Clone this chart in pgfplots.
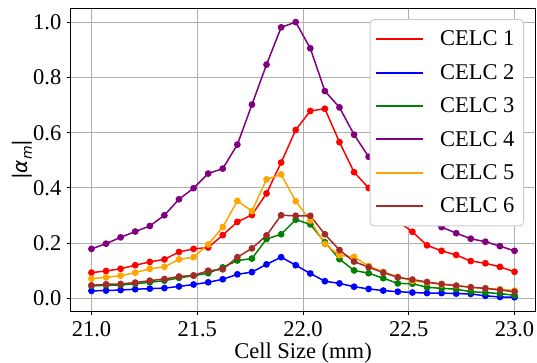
\documentclass[border=0pt]{standalone}
\usepackage{pgfplots}
\usepackage{pgfplotstable}
\pgfplotsset{compat=1.18}
\usepackage{fontspec}
\setmainfont{Liberation Serif}
\newfontfamily\timesf{Liberation Serif}
\newfontfamily\djv{DejaVu Sans}
\definecolor{mred}{HTML}{FF0000}
\definecolor{mblue}{HTML}{0000FF}
\definecolor{mgreen}{HTML}{008000}
\definecolor{mpurple}{HTML}{800080}
\definecolor{morange}{HTML}{FFA500}
\definecolor{mbrown}{HTML}{A52A2A}
\definecolor{gridgray}{HTML}{B0B0B0}
\definecolor{leggray}{HTML}{CCCCCC}

\pgfplotstableread{
x       c1     c2     c3     c4     c5     c6
21.0000 0.093  0.027  0.045  0.179  0.071  0.047
21.0690 0.099  0.028  0.047  0.198  0.076  0.051
21.1379 0.107  0.030  0.048  0.221  0.082  0.052
21.2069 0.120  0.033  0.053  0.242  0.093  0.057
21.2759 0.132  0.035  0.058  0.262  0.107  0.064
21.3448 0.141  0.037  0.064  0.301  0.114  0.070
21.4138 0.168  0.043  0.074  0.359  0.141  0.079
21.4828 0.179  0.050  0.082  0.399  0.149  0.083
21.5517 0.184  0.058  0.091  0.452  0.195  0.100
21.6207 0.229  0.069  0.112  0.470  0.258  0.105
21.6897 0.277  0.087  0.137  0.557  0.353  0.149
21.7586 0.302  0.095  0.144  0.702  0.316  0.181
21.8276 0.380  0.123  0.215  0.847  0.431  0.228
21.8966 0.492  0.149  0.232  0.982  0.449  0.301
21.9655 0.610  0.120  0.285  1.001  0.352  0.299
22.0345 0.679  0.090  0.268  0.906  0.282  0.299
22.1034 0.687  0.062  0.203  0.751  0.197  0.232
22.1724 0.566  0.054  0.142  0.692  0.156  0.175
22.2414 0.457  0.042  0.101  0.593  0.150  0.133
22.3103 0.400  0.034  0.091  0.513  0.117  0.113
22.3793 0.340  0.028  0.073  0.440  0.096  0.093
22.4483 0.279  0.024  0.054  0.380  0.078  0.076
22.5172 0.241  0.021  0.053  0.320  0.063  0.068
22.5862 0.192  0.019  0.040  0.283  0.057  0.059
22.6552 0.172  0.019  0.036  0.258  0.050  0.052
22.7241 0.157  0.017  0.033  0.236  0.045  0.046
22.7931 0.135  0.016  0.024  0.216  0.040  0.040
22.8621 0.127  0.009  0.021  0.205  0.036  0.036
22.9310 0.114  0.005  0.017  0.189  0.033  0.030
23.0000 0.096  0.004  0.011  0.172  0.028  0.024
}\datatable

\begin{document}
\begin{tikzpicture}
\begin{axis}[
  name=ax,
  scale only axis,
  width=465.4pt, height=302.7pt,
  xmin=20.9, xmax=23.1,
  ymin=-0.046, ymax=1.051,
  xtick={21,21.5,22,22.5,23},
  ytick={0,0.2,0.4,0.6,0.8,1.0},
  xticklabels={21.0,21.5,22.0,22.5,23.0},
  yticklabels={0.0,0.2,0.4,0.6,0.8,1.0},
  tick label style={font=\timesf\fontsize{22.5}{27}\selectfont},
  xticklabel style={anchor=north, inner sep=0pt, yshift=-6.7pt},
  yticklabel style={anchor=east, inner sep=0pt, xshift=-5.3pt},
  tick align=outside,
  major tick length=3.5pt,
  every tick/.style={black, line width=1pt},
  xtick pos=bottom, ytick pos=left,
  grid=major,
  major grid style={gridgray, line width=1pt},
  axis line style={black, line width=1pt},
  every axis x label/.style={at={(rel axis cs:0.5,0)}, anchor=north, inner sep=0pt, yshift=-31.2pt, font=\timesf\fontsize{22.5}{27}\selectfont},
  every axis y label/.style={at={(rel axis cs:0,0.5)}, xshift=-37.8pt, rotate=90, anchor=south, inner sep=0pt, font=\fontsize{20}{24}\selectfont},
  xlabel={Cell Size (mm)},
  ylabel={{\djv|\itshape α\raisebox{-0.22em}{\fontsize{14}{16}\selectfont m}\upshape|}},
  legend cell align=left,
  legend image code/.code={\draw[#1, line width=2pt] (0pt,0pt) -- (47pt,0pt);},
  legend style={
    at={(rel axis cs:1,1)}, anchor=north east, xshift=-11.7pt, yshift=-10.7pt,
    font=\timesf\fontsize{22.5}{27}\selectfont,
    draw=leggray, line width=1pt, rounded corners=4pt, fill=white,
    inner xsep=5pt, inner ysep=3pt,
    column sep=12pt, row sep=0pt,
    nodes={inner xsep=4pt, inner ysep=8.5pt},
  },
  every axis plot/.append style={line width=1.5pt, mark=*, mark size=2.6pt, mark options={solid}},
]
\addplot[mred, mark options={fill=mred, draw=mred}] table[x=x, y=c1] {\datatable};
\addlegendentry{CELC 1}
\addplot[mblue, mark options={fill=mblue, draw=mblue}] table[x=x, y=c2] {\datatable};
\addlegendentry{CELC 2}
\addplot[mgreen, mark options={fill=mgreen, draw=mgreen}] table[x=x, y=c3] {\datatable};
\addlegendentry{CELC 3}
\addplot[mpurple, mark options={fill=mpurple, draw=mpurple}] table[x=x, y=c4] {\datatable};
\addlegendentry{CELC 4}
\addplot[morange, mark options={fill=morange, draw=morange}] table[x=x, y=c5] {\datatable};
\addlegendentry{CELC 5}
\addplot[mbrown, mark options={fill=mbrown, draw=mbrown}] table[x=x, y=c6] {\datatable};
\addlegendentry{CELC 6}
\end{axis}
\pgfresetboundingbox
\path[use as bounding box] ([xshift=-70.3pt,yshift=-51pt]ax.south west) rectangle ([xshift=1.3pt,yshift=8.3pt]ax.north east);
\end{tikzpicture}
\end{document}
